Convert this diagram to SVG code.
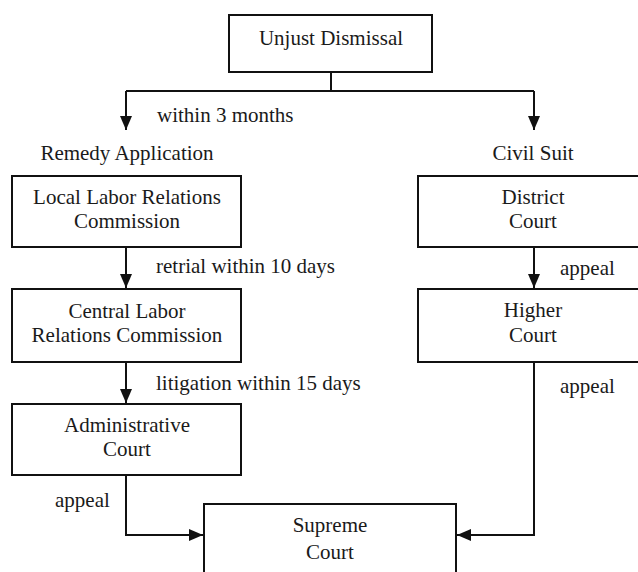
<svg xmlns="http://www.w3.org/2000/svg" width="638" height="572" viewBox="0 0 638 572">
<defs>
<marker id="arr" markerUnits="userSpaceOnUse" markerWidth="14" markerHeight="12" refX="14" refY="6" orient="auto">
<path d="M0,0 L14,6 L0,12 z" fill="#111"/>
</marker>
<style>
.box{fill:#fff;stroke:#111;stroke-width:2}
.t{font-family:'Liberation Serif','DejaVu Serif',serif;font-size:21px;fill:#1a1a1a}
.c{text-anchor:middle}
.ln{fill:none;stroke:#111;stroke-width:2}
</style>
</defs>
<rect width="638" height="572" fill="#fff"/>
<g id="connectors">
<path class="ln" d="M331,72 V91"/>
<path class="ln" d="M126,91 H534"/>
<path class="ln" d="M126,91 V130" marker-end="url(#arr)"/>
<path class="ln" d="M534,91 V130" marker-end="url(#arr)"/>
<path class="ln" d="M126,247 V288" marker-end="url(#arr)"/>
<path class="ln" d="M534,247 V288" marker-end="url(#arr)"/>
<path class="ln" d="M126,362 V403" marker-end="url(#arr)"/>
<path class="ln" d="M534,362 V535 H457" marker-end="url(#arr)"/>
<path class="ln" d="M126,475 V535 H203" marker-end="url(#arr)"/>
</g>
<g id="labels">
<text class="t" x="157" y="122">within 3 months</text>
<text class="t c" x="127" y="160">Remedy Application</text>
<text class="t c" x="533" y="160">Civil Suit</text>
<text class="t" x="156" y="273">retrial within 10 days</text>
<text class="t" x="560" y="275">appeal</text>
<text class="t" x="156" y="390">litigation within 15 days</text>
<text class="t" x="560" y="393">appeal</text>
<text class="t" x="55" y="507">appeal</text>
</g>
<g id="unjust">
<rect class="box" x="229" y="15" width="203" height="57"/>
<text class="t c" x="331" y="45">Unjust Dismissal</text>
</g>
<g id="local">
<rect class="box" x="12" y="176" width="229" height="71"/>
<text class="t c" x="127" y="204">Local Labor Relations</text>
<text class="t c" x="127" y="228">Commission</text>
</g>
<g id="district">
<rect class="box" x="418" y="176" width="240" height="71"/>
<text class="t c" x="533" y="204">District</text>
<text class="t c" x="533" y="228">Court</text>
</g>
<g id="central">
<rect class="box" x="12" y="289" width="229" height="73"/>
<text class="t c" x="127" y="318">Central Labor</text>
<text class="t c" x="127" y="342">Relations Commission</text>
</g>
<g id="higher">
<rect class="box" x="418" y="289" width="240" height="73"/>
<text class="t c" x="533" y="317">Higher</text>
<text class="t c" x="533" y="342">Court</text>
</g>
<g id="administrative">
<rect class="box" x="12" y="404" width="229" height="71"/>
<text class="t c" x="127" y="432">Administrative</text>
<text class="t c" x="127" y="456">Court</text>
</g>
<g id="supreme">
<rect class="box" x="204" y="504" width="252" height="90"/>
<text class="t c" x="330" y="532">Supreme</text>
<text class="t c" x="330" y="559">Court</text>
</g>
</svg>
